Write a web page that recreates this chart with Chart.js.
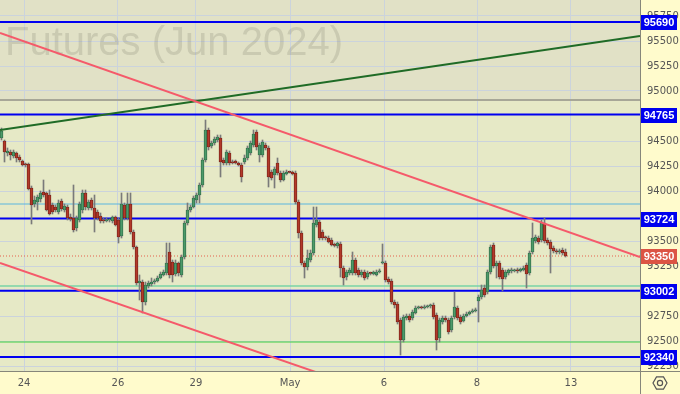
<!DOCTYPE html>
<html><head><meta charset="utf-8">
<script src="https://cdn.jsdelivr.net/npm/chart.js@4.4.1/dist/chart.umd.min.js"></script>
<style>html,body{margin:0;padding:0;background:#fffbcc;}canvas{display:block}</style>
</head><body>
<canvas id="c" width="680" height="394" style="width:680px;height:394px"></canvas>
<script>
// ---- data ----
const opens = [
94530,94500,94380,94390,94350,94380,94340,94300,94270,94270,
94030,93870,93890,93920,93990,93980,93960,93860,93840,93790,
93900,93810,93840,93740,93730,93630,93710,93810,93980,93830,
93910,93830,93790,93750,93710,93700,93710,93700,93740,93710,
93550,93860,93730,93870,93590,93440,93080,93090,92890,93050,
93070,93090,93100,93130,93160,93180,93390,93290,93170,93280,
93160,93340,93680,93810,93840,93910,93960,94060,94310,94610,
94450,94480,94510,94530,94310,94280,94380,94290,94300,94280,
94260,94290,94330,94380,94460,94590,94360,94360,94460,94430,
94190,94160,94280,94180,94110,94170,94190,94190,94180,93890,
93580,93280,93240,93310,93380,93660,93690,93590,93540,93530,
93510,93460,93450,93470,93230,93140,93180,93180,93310,93210,
93160,93190,93140,93180,93170,93160,93190,93280,93280,93120,
93100,92890,92870,92710,92510,92730,92750,92730,92780,92830,
92840,92830,92840,92850,92860,92760,92530,92690,92730,92710,
92610,92740,92830,92740,92700,92750,92770,92790,92800,92900,
92940,93030,92990,93190,93460,93250,93280,93210,93140,93180,
93200,93200,93210,93200,93210,93260,93180,93390,93500,93530,
93510,93680,93510,93490,93430,93400,93390,93410,93390];
const highs = [
94630,94510,94430,94410,94410,94390,94360,94310,94280,94280,
94050,93950,93960,94000,94110,93990,94010,93880,93860,93910,
93920,93870,93860,93770,94060,93750,93890,94010,94010,93910,
93930,93960,93810,93780,93730,93730,93720,93750,93750,93730,
93980,93880,93980,93980,93610,93450,93160,93110,93090,93100,
93130,93120,93150,93190,93210,93480,93480,93310,93310,93290,
93360,93700,93880,93860,93950,93980,94080,94330,94710,94630,
94500,94540,94560,94560,94330,94410,94400,94310,94310,94290,
94280,94360,94450,94500,94610,94610,94480,94510,94480,94450,
94210,94240,94330,94200,94200,94210,94200,94200,94200,93910,
93600,93300,93410,93410,93840,93840,93710,93610,93550,93550,
93530,93480,93490,93490,93250,93210,93230,93390,93330,93230,
93210,93210,93200,93190,93200,93210,93220,93470,93300,93140,
93120,92910,92890,92730,92760,92770,92770,92810,92850,92850,
92850,92860,92860,92870,92880,92780,92730,92750,92750,92730,
92750,92990,92850,92760,92770,92790,92800,92820,92830,92960,
93060,93060,93210,93460,93480,93300,93300,93230,93210,93220,
93230,93220,93230,93230,93250,93280,93400,93680,93560,93550,
93710,93730,93530,93510,93450,93420,93420,93430,93420];
const lows = [
94510,94290,94350,94310,94330,94290,94290,94250,94240,94010,
93670,93840,93810,93890,93940,93800,93760,93770,93790,93770,
93800,93790,93710,93700,93590,93600,93690,93780,93810,93810,
93810,93590,93710,93680,93680,93690,93690,93680,93650,93480,
93530,93710,93710,93570,93420,93060,92910,92780,92860,93030,
93050,93070,93090,93120,93150,93160,93130,93090,93150,93150,
93140,93320,93660,93790,93830,93880,93880,94040,94290,94410,
94430,94460,94490,94140,94260,94260,94260,94270,94270,94250,
94090,94270,94310,94360,94440,94410,94290,94340,94410,94040,
94110,94030,94160,94090,94100,94160,94180,94160,93870,93530,
93260,93130,93210,93290,93360,93640,93510,93510,93510,93480,
93450,93440,93430,93140,93060,93110,93160,93160,93160,93140,
93140,93110,93120,93160,93160,93150,93180,93270,93090,93070,
92870,92830,92670,92360,92490,92710,92690,92710,92770,92820,
92820,92820,92830,92830,92720,92410,92490,92670,92690,92570,
92590,92720,92710,92670,92690,92740,92760,92780,92790,92690,
92920,92940,92970,93170,93230,93130,93120,93000,93120,93160,
93180,93190,93180,93190,93200,93030,93160,93370,93480,93470,
93490,93480,93460,93180,93380,93370,93370,93360,93340];
const closes = [
94600,94390,94400,94360,94390,94330,94310,94260,94260,94020,
93860,93910,93940,93980,93960,93810,93770,93790,93810,93880,
93820,93850,93730,93720,93610,93730,93870,93980,93840,93890,
93830,93730,93730,93700,93700,93710,93710,93740,93660,93540,
93870,93730,93870,93590,93440,93080,93100,92890,93060,93080,
93090,93100,93130,93170,93190,93280,93160,93160,93280,93180,
93340,93680,93810,93840,93930,93960,94060,94310,94610,94440,
94480,94520,94540,94290,94280,94390,94280,94280,94280,94260,
94140,94330,94430,94480,94570,94440,94460,94490,94430,94140,
94130,94220,94180,94110,94180,94190,94185,94170,93890,93580,
93280,93240,93330,93380,93680,93710,93530,93530,93530,93490,
93460,93455,93480,93230,93130,93190,93210,93310,93180,93160,
93190,93130,93180,93175,93190,93190,93200,93290,93110,93090,
92890,92860,92690,92510,92740,92750,92710,92790,92830,92840,
92830,92840,92850,92855,92740,92510,92710,92730,92710,92590,
92730,92840,92730,92690,92750,92770,92790,92800,92810,92940,
93010,92960,93190,93440,93250,93280,93140,93120,93190,93210,
93210,93210,93200,93220,93230,93170,93380,93530,93540,93490,
93680,93500,93480,93420,93400,93390,93400,93380,93350];

const xTickPos    = [7.5, 38.8, 64.8, 96.2, 127.5, 158.5, 189.8];
const xTickLabels = ['24', '26', '29', 'May', '6', '8', '13'];
const yTicks = [92250, 92500, 92750, 93250, 93500, 94000, 94250, 94500, 95000, 95250, 95500, 95750];

const keyLevels  = [95690, 94765, 93724, 93002, 92340];
const lastPrice  = 93350;
const grayLevel  = 94910;
const cyanLevel  = 93870;
const tealLevel  = 93050;
const greenLevel = 92490;

const X_MIN = -0.5, X_MAX = 212.83;
const Y_MIN = 92200, Y_MAX = 95910;
// trend lines: value at X_MIN and at X_MAX
const trendUpper = [95580, 93340];
const trendLower = [93280, 91070];
const trendGreen = [94610, 95550];

const title = 'Futures (Jun 2024)';

// ---- build datasets ----
const idx = opens.map((_, i) => i);
const wickData = idx.map(i => ({x: i, y: [lows[i], highs[i]]}));
const bodyData = idx.map(i => ({x: i, y: [opens[i], closes[i]]}));
const bodyFill = idx.map(i => closes[i] >= opens[i] ? '#4c9a69' : '#b3392a');
const bodyLine = idx.map(i => closes[i] >= opens[i] ? '#24583a' : '#5e1a12');

function hline(v, color, width, order, dash) {
  return {type: 'line', data: [{x: X_MIN, y: v}, {x: X_MAX, y: v}], borderColor: color,
    borderWidth: width, pointRadius: 0, fill: false, order: order, borderDash: dash || []};
}
function tline(vals, color, width, order) {
  return {type: 'line', data: [{x: X_MIN, y: vals[0]}, {x: X_MAX, y: vals[1]}], borderColor: color,
    borderWidth: width, pointRadius: 0, fill: false, order: order};
}

const datasets = [
  tline(trendUpper, '#f55a6a', 2, 1),
  tline(trendLower, '#f55a6a', 2, 1),
  tline(trendGreen, '#1f6b26', 2, 1),
  {type: 'bar', data: bodyData, backgroundColor: bodyFill, borderColor: bodyLine, borderWidth: 0.7,
    borderSkipped: false, barThickness: 3, minBarLength: 1.2, grouped: false, order: 2},
  {type: 'bar', data: wickData, backgroundColor: '#7a7a7a', barThickness: 1, grouped: false, order: 3},
  hline(lastPrice, '#e5604c', 1, 4, [1, 2]),
  ...keyLevels.map(v => hline(v, '#0000f0', 2, 5)),
  hline(grayLevel, '#a7a797', 2, 6),
  hline(cyanLevel, '#5ab6df', 1, 6),
  hline(tealLevel, '#78d3a6', 1.5, 6),
  hline(greenLevel, '#3fd13f', 1, 6)
];

const deco = {
  id: 'deco',
  beforeDraw(chart) {
    const {ctx, chartArea: a, scales: {y}} = chart;
    const yg = y.getPixelForValue(grayLevel);
    ctx.save();
    ctx.fillStyle = '#e1e1c6';
    ctx.fillRect(a.left, a.top, a.right - a.left, yg - a.top);
    ctx.fillStyle = '#e6e9c6';
    ctx.fillRect(a.left, yg, a.right - a.left, a.bottom - yg);
    ctx.restore();
  },
  beforeDatasetsDraw(chart) {
    const {ctx} = chart;
    ctx.save();
    ctx.font = '40px "Liberation Sans", Arial, sans-serif';
    ctx.fillStyle = 'rgba(110,110,95,0.2)';
    ctx.textBaseline = 'alphabetic';
    ctx.fillText(title, 5, 55);
    ctx.restore();
  },
  afterDraw(chart) {
    const {ctx, chartArea: a, scales: {y}} = chart;
    ctx.save();
    ctx.strokeStyle = '#86867a';
    ctx.lineWidth = 1;
    ctx.beginPath();
    ctx.moveTo(a.right + 0.5, 0); ctx.lineTo(a.right + 0.5, chart.height);
    ctx.moveTo(0, a.bottom + 0.5); ctx.lineTo(chart.width, a.bottom + 0.5);
    ctx.stroke();
    function badge(v, bg) {
      const py = y.getPixelForValue(v);
      ctx.fillStyle = bg;
      ctx.fillRect(a.right + 1, Math.round(py) - 7, 36, 15);
      ctx.fillStyle = '#ffffff';
      ctx.font = 'bold 11px "Liberation Sans", Arial, sans-serif';
      ctx.textAlign = 'center';
      ctx.textBaseline = 'middle';
      ctx.fillText(String(v), a.right + 19, Math.round(py) + 1);
    }
    keyLevels.forEach(v => badge(v, '#0000ee'));
    badge(lastPrice, '#dc5444');
    // settings hexagon icon
    const cx = 660, cy = 383, r = 7;
    ctx.strokeStyle = '#555';
    ctx.lineWidth = 1.2;
    ctx.beginPath();
    for (let k = 0; k < 6; k++) {
      const ang = Math.PI / 3 * k;
      const px = cx + r * Math.cos(ang), pyy = cy + r * Math.sin(ang);
      if (k === 0) ctx.moveTo(px, pyy); else ctx.lineTo(px, pyy);
    }
    ctx.closePath();
    ctx.stroke();
    ctx.beginPath();
    ctx.arc(cx, cy, 2.6, 0, Math.PI * 2);
    ctx.stroke();
    ctx.restore();
  }
};

new Chart(document.getElementById('c'), {
  type: 'bar',
  data: {datasets},
  options: {
    responsive: false,
    animation: false,
    events: [],
    layout: {padding: 0},
    plugins: {legend: {display: false}, tooltip: {enabled: false}},
    scales: {
      x: {
        type: 'linear', min: X_MIN, max: X_MAX, offset: false,
        grid: {offset: false, color: '#cbd3dc', lineWidth: 1, drawTicks: false},
        border: {display: false},
        afterBuildTicks: s => { s.ticks = xTickPos.map(v => ({value: v})); },
        afterFit: s => { s.height = 23; s.paddingLeft = 0; s.paddingRight = 0; s.paddingTop = 0; s.paddingBottom = 0; },
        ticks: {
          autoSkip: false, maxRotation: 0, padding: 6, color: '#555',
          font: {family: '"DejaVu Sans", sans-serif', size: 10},
          callback: (v, i) => xTickLabels[i]
        }
      },
      y: {
        type: 'linear', position: 'right', min: Y_MIN, max: Y_MAX, beginAtZero: false,
        grid: {color: '#cbd3dc', lineWidth: 1, drawTicks: false},
        border: {display: false},
        afterBuildTicks: s => { s.ticks = yTicks.map(v => ({value: v})); },
        afterFit: s => { s.width = 40; s.paddingLeft = 0; s.paddingRight = 0; s.paddingTop = 0; s.paddingBottom = 0; },
        ticks: {
          padding: 7, color: '#555',
          font: {family: '"DejaVu Sans", sans-serif', size: 10},
          callback: v => String(v)
        }
      }
    }
  },
  plugins: [deco]
});
</script>
</body></html>
